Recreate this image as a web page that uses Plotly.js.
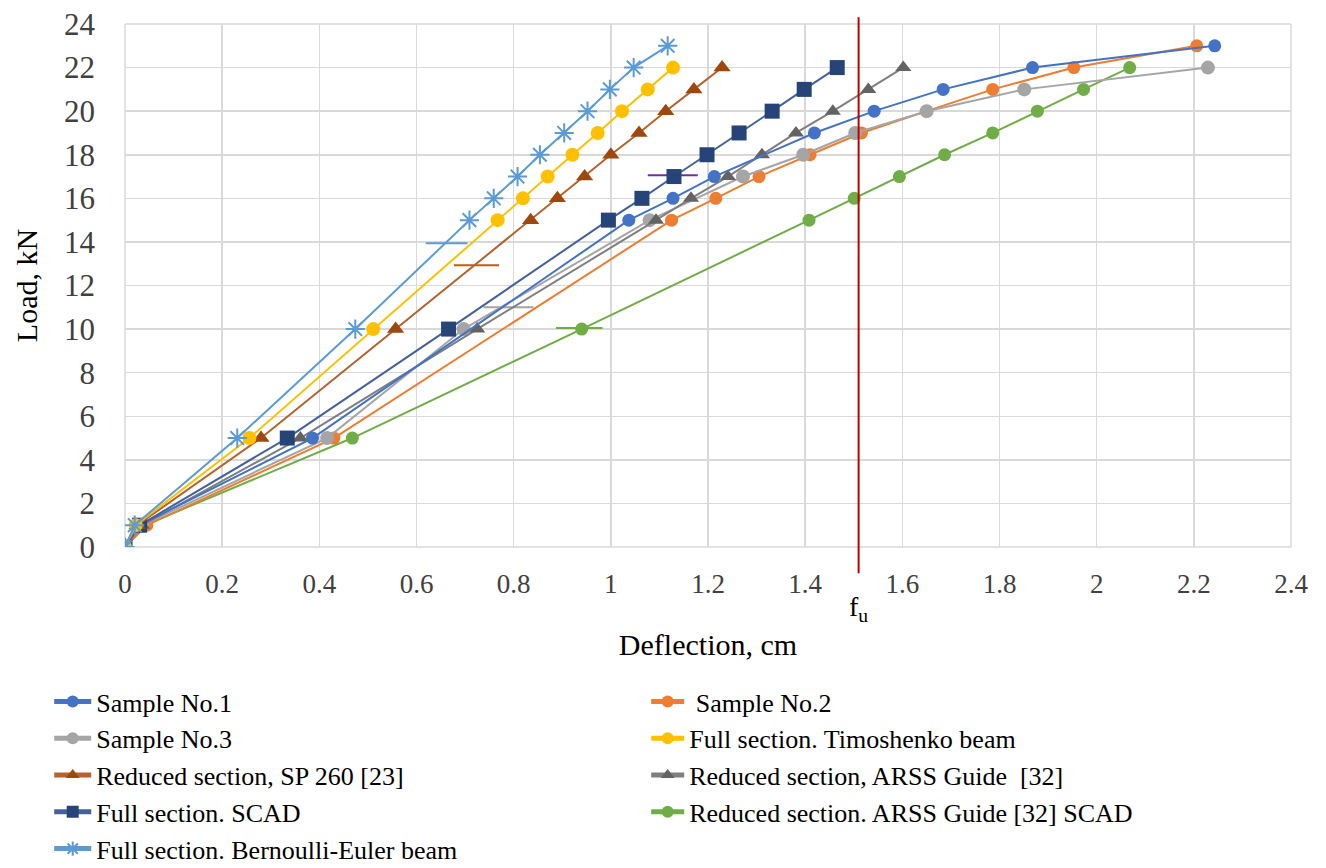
<!DOCTYPE html>
<html><head><meta charset="utf-8">
<script src="https://cdn.plot.ly/plotly-3.0.1.min.js"></script>
<style>html,body{margin:0;padding:0;background:#fff}#chart{width:1326px;height:868px}</style>
</head><body><div id="chart"></div>
<script>
// Data (deflection cm, load kN)
const names = ["Sample No.1", " Sample No.2", "Sample No.3", "Full section. Timoshenko beam",
  "Reduced section, SP 260 [23]", "Reduced section, ARSS Guide  [32]", "Full section. SCAD",
  "Reduced section. ARSS Guide [32] SCAD", "Full section. Bernoulli-Euler beam"];
const s1X = [0,0.03,0.386,1.037,1.128,1.213,1.419,1.542,1.684,1.868,2.243];
const s1Y = [0,1,5,15,16,17,19,20,21,22,23];
const s2X = [0,0.045,0.43,1.125,1.216,1.305,1.41,1.516,1.65,1.786,1.953,2.206];
const s2Y = [0,1,5,15,16,17,18,19,20,21,22,23];
const s3X = [0,0.035,0.416,0.697,1.08,1.272,1.396,1.503,1.65,1.851,2.229];
const s3Y = [0,1,5,10,15,17,18,19,20,21,22];
const timX = [0,0.022,0.256,0.511,0.767,0.819,0.870,0.921,0.973,1.023,1.076,1.128];
const timY = [0,1,5,10,15,16,17,18,19,20,21,22];
const sp260X = [0,0.025,0.28,0.557,0.835,0.89,0.946,1.0,1.058,1.113,1.171,1.229];
const sp260Y = [0,1,5,10,15,16,17,18,19,20,21,22];
const arssX = [0,0.035,0.361,0.725,1.093,1.165,1.241,1.311,1.381,1.457,1.53,1.602];
const arssY = [0,1,5,10,15,16,17,18,19,20,21,22];
const scadX = [0,0.03,0.334,0.666,0.995,1.064,1.130,1.198,1.264,1.332,1.398,1.466];
const scadY = [0,1,5,10,15,16,17,18,19,20,21,22];
const arssScadX = [0,0.04,0.468,0.940,1.408,1.501,1.594,1.687,1.786,1.878,1.973,2.068];
const arssScadY = [0,1,5,10,15,16,17,18,19,20,21,22];
const beX = [0,0.02,0.231,0.474,0.709,0.759,0.808,0.854,0.904,0.952,0.998,1.047,1.117];
const beY = [0,1,5,10,15,16,17,18,19,20,21,22,23];
// small horizontal marks seen on the chart
const markX0 = [0.619,0.677,1.076,0.887,0.738];
const markX1 = [0.705,0.770,1.179,0.983,0.841];
const markY  = [13.94,12.93,17.06,10.05,11.0];
const markColor = ["#5B9BD5","#C55A11","#7030A0","#70AD47","#A5A5A5"];
const fu = 1.51;
const xTicks = [0,0.2,0.4,0.6,0.8,1,1.2,1.4,1.6,1.8,2,2.2,2.4];
const yTicks = [0,2,4,6,8,10,12,14,16,18,20,22,24];

const F = "Liberation Serif, Times New Roman, serif";
function tr(x,y,name,color,symbol,size,legend,lineColor,mline){
  return {x:x,y:y,name:name,type:"scatter",mode:"lines+markers",legend:legend,legendgroup:name,
    line:{color:lineColor||color,width:2},
    marker:{color:color,symbol:symbol,size:size,line:mline||{width:0}}};
}
const data = [];
for(let i=0;i<markY.length;i++){
  data.push({x:[markX0[i],markX1[i]],y:[markY[i],markY[i]],type:"scatter",mode:"lines",
    line:{color:markColor[i],width:2},showlegend:false,hoverinfo:"skip"});
}
data.push(
  tr(arssScadX,arssScadY,names[7],"#70AD47","circle",13,"legend2"),
  tr(s2X,s2Y,names[1],"#ED7D31","circle",13,"legend2"),
  tr(s3X,s3Y,names[2],"#A5A5A5","circle",14,"legend"),
  tr(arssX,arssY,names[5],"#636363","triangle-up",14,"legend2","#7F7F7F"),
  tr(s1X,s1Y,names[0],"#4472C4","circle",13,"legend"),
  tr(scadX,scadY,names[6],"#264478","square",15,"legend","#44619B"),
  tr(sp260X,sp260Y,names[4],"#9E480E","triangle-up",15,"legend","#B4632F"),
  tr(timX,timY,names[3],"#FFC000","circle",14,"legend2"),
  tr(beX,beY,names[8],"#5B9BD5","asterisk-open",16,"legend","#5B9BD5",{color:"#5B9BD5",width:2})
);
const rankL = {"Sample No.1":1,"Sample No.3":2,"Reduced section, SP 260 [23]":3,"Full section. SCAD":4,"Full section. Bernoulli-Euler beam":5};
const rankR = {" Sample No.2":1,"Full section. Timoshenko beam":2,"Reduced section, ARSS Guide  [32]":3,"Reduced section. ARSS Guide [32] SCAD":4};
data.forEach(d=>{ if(d.name){ d.legendrank = rankL[d.name]||rankR[d.name]; }});

const legendCommon = {xanchor:"left",y:-0.2505,yanchor:"top",orientation:"v",traceorder:"grouped",tracegroupgap:0,
  itemsizing:"constant",font:{family:F,size:26,color:"#000"},bgcolor:"rgba(0,0,0,0)"};
const layout = {
  width:1326,height:868,paper_bgcolor:"#fff",plot_bgcolor:"#fff",
  margin:{l:125,r:35,t:24,b:321,autoexpand:false},
  font:{family:F,size:20,color:"#000"},
  xaxis:{range:[0,2.4],tickvals:xTicks,ticktext:xTicks.map(String),showgrid:true,gridcolor:"#D9D9D9",gridwidth:1.5,
    zeroline:false,showline:false,ticks:"",ticklabelstandoff:18,tickfont:{family:F,size:27,color:"#404040"},
    title:{text:"Deflection, cm",font:{family:F,size:30,color:"#000"},standoff:35}},
  yaxis:{range:[0,24],tickvals:yTicks,ticktext:yTicks.map(String),showgrid:true,gridcolor:"#D9D9D9",gridwidth:1.5,
    zeroline:false,showline:false,ticks:"",ticklabelstandoff:29,tickfont:{family:F,size:31,color:"#404040"},
    title:{text:"Load, kN",font:{family:F,size:30,color:"#000"},standoff:17}},
  shapes:[
    {type:"line",xref:"x",yref:"paper",x0:fu,x1:fu,y0:-0.05,y1:1.013,layer:"above",line:{color:"#C00000",width:2}},
    {type:"line",xref:"paper",yref:"paper",x0:1,x1:1,y0:0,y1:1,layer:"below",line:{color:"#D9D9D9",width:1.5}},
    {type:"line",xref:"paper",yref:"paper",x0:0,x1:0,y0:0,y1:1,layer:"below",line:{color:"#D9D9D9",width:1.5}},
    {type:"line",xref:"paper",yref:"paper",x0:0,x1:1,y0:0,y1:0,layer:"below",line:{color:"#D9D9D9",width:1.5}},
    {type:"line",xref:"paper",yref:"paper",x0:0,x1:1,y0:1,y1:1,layer:"below",line:{color:"#D9D9D9",width:1.5}}
  ],
  annotations:[{x:fu,xref:"x",y:-0.081,yref:"paper",yanchor:"top",xanchor:"center",showarrow:false,
    text:"f<sub>u</sub>",font:{family:F,size:28,color:"#000"}}],
  legend:Object.assign({x:-0.065,itemwidth:37},legendCommon),
  legend2:Object.assign({x:0.447,itemwidth:33},legendCommon),
  showlegend:true
};
Plotly.newPlot("chart",data,layout,{displayModeBar:false,staticPlot:true});
</script></body></html>
